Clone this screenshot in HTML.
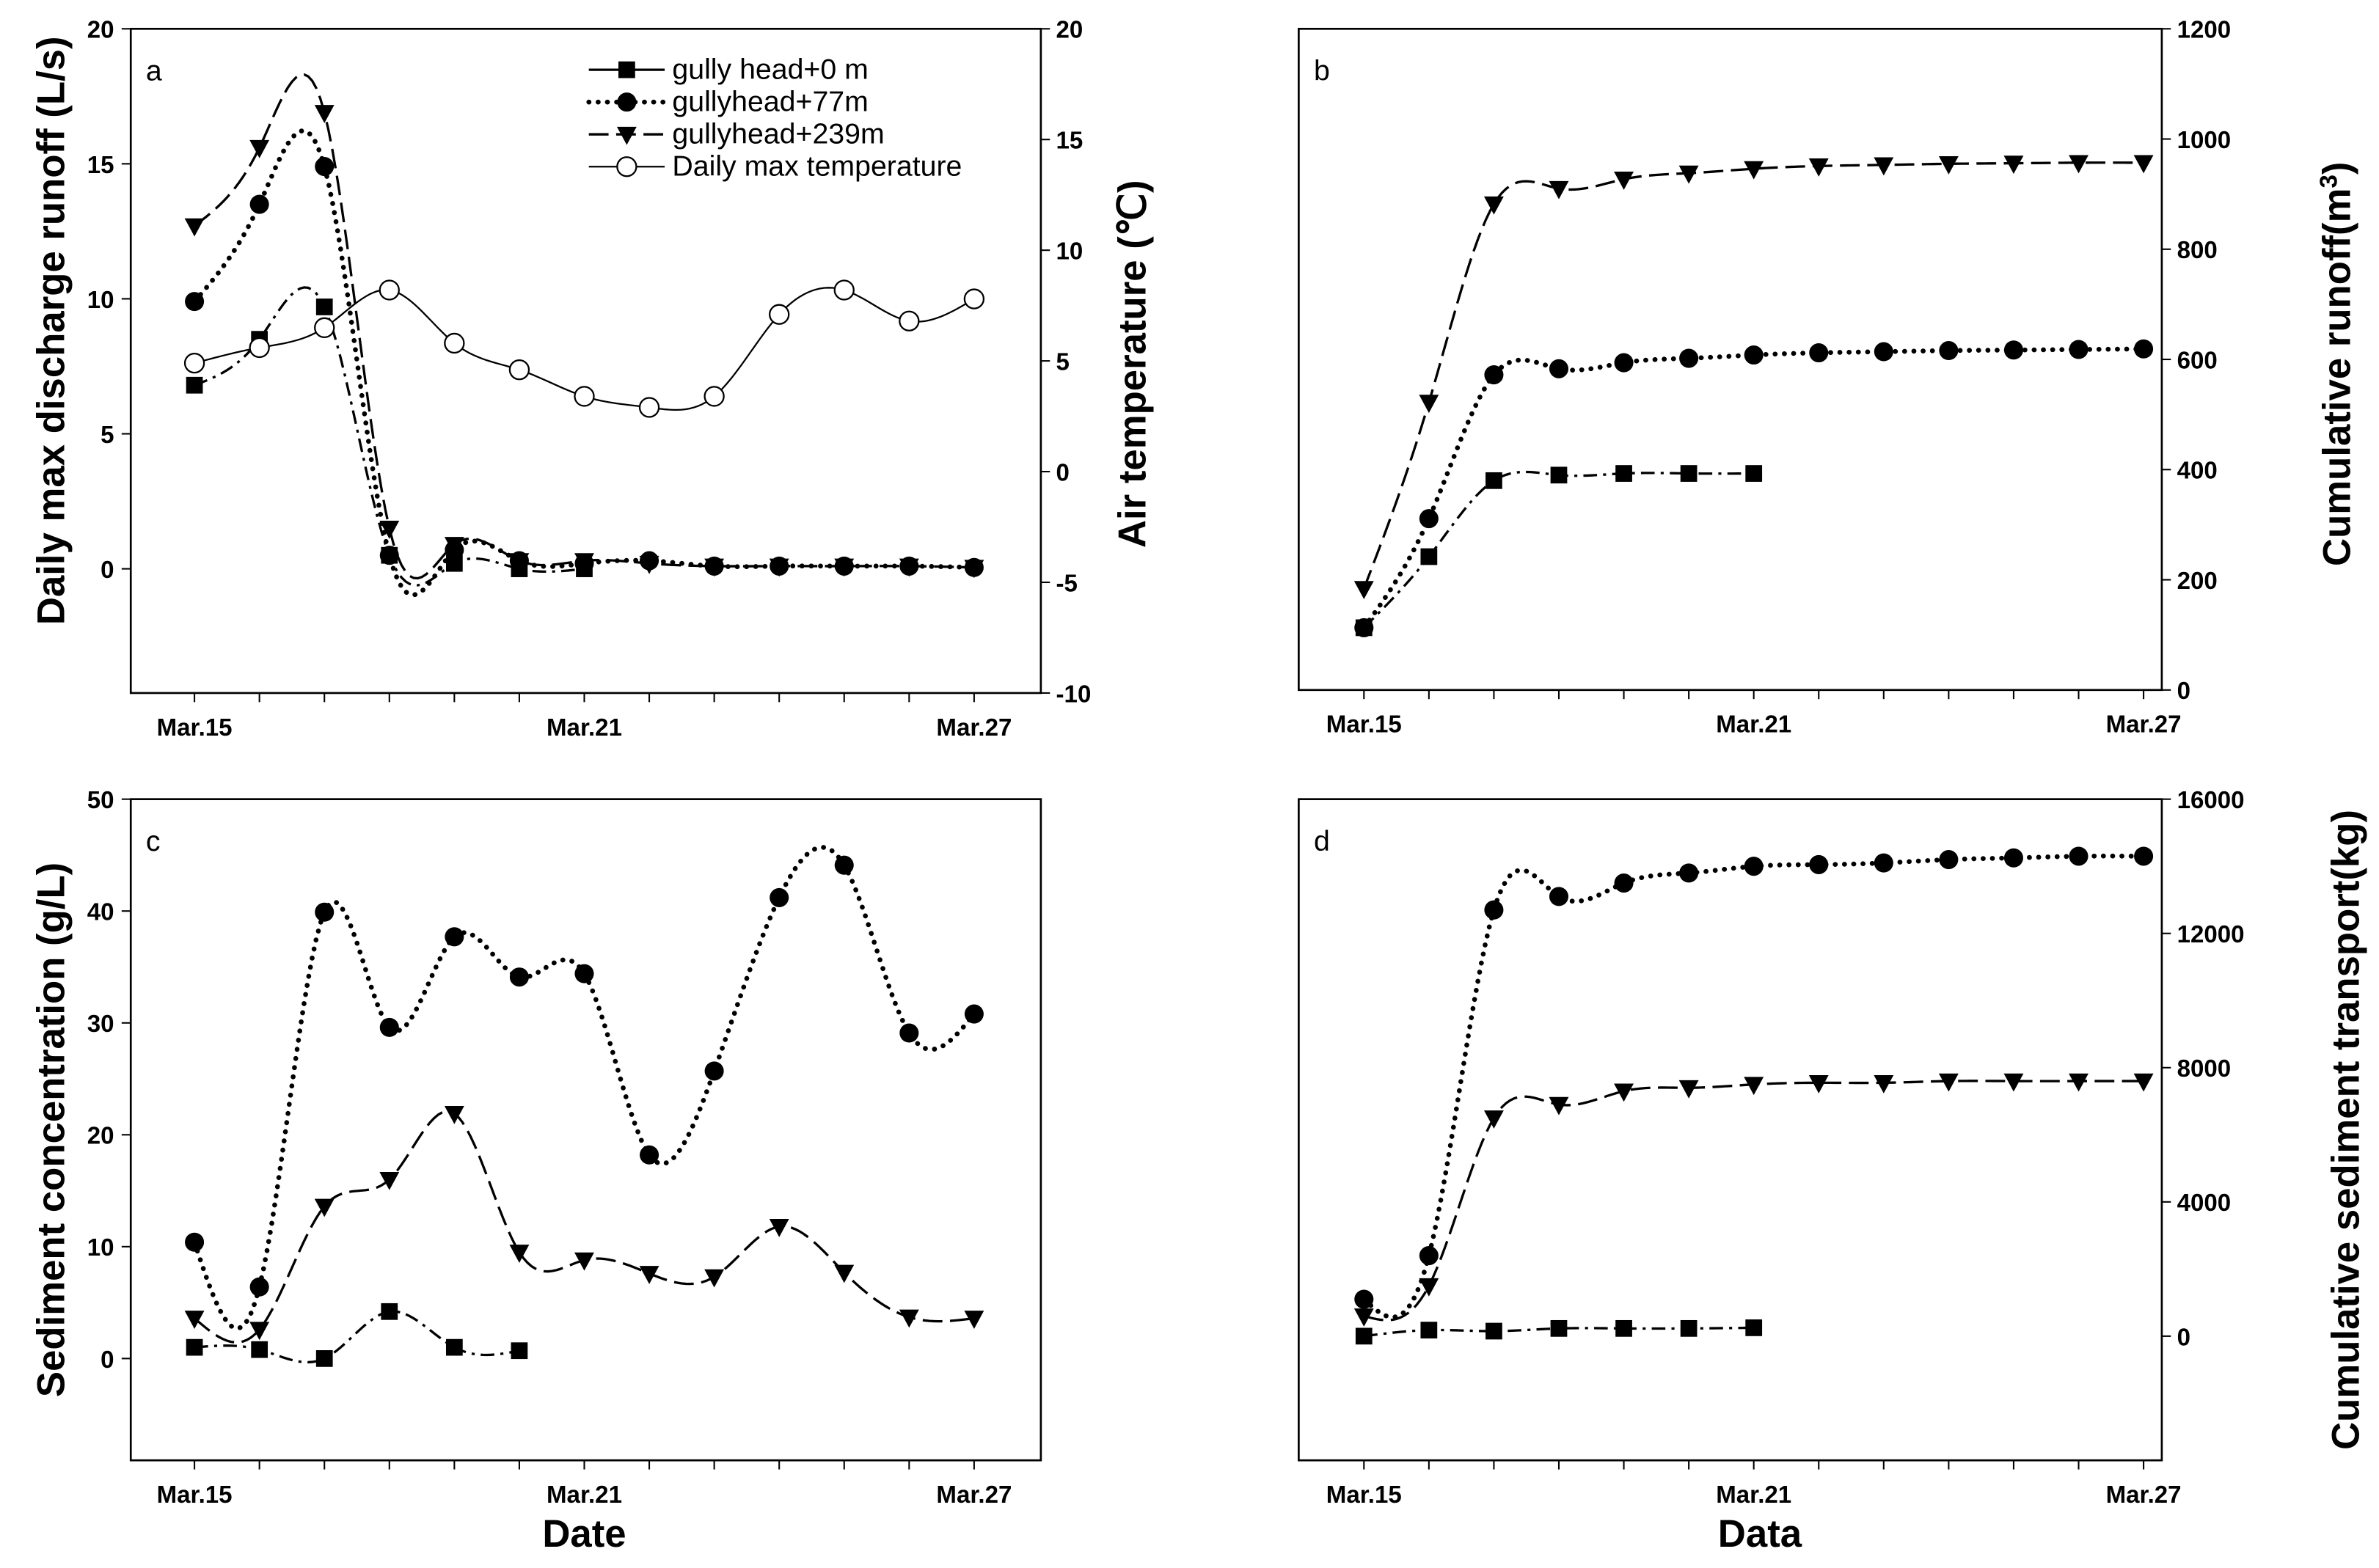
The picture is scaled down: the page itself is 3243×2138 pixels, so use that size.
<!DOCTYPE html>
<html><head><meta charset="utf-8"><style>
html,body{margin:0;padding:0;background:#fff;}
svg{display:block;}
text{font-family:"Liberation Sans",sans-serif;fill:#000;}
.tick{font-size:16px;font-weight:bold;}
.title{font-size:25.5px;font-weight:bold;}
.leg{font-size:19px;}
</style></head><body>
<svg id="fig" width="3243" height="2138" viewBox="0 0 1568 1034" xmlns="http://www.w3.org/2000/svg"></svg>
<script>
// ---- shared data ----
const dayLabels = ["Mar.15","Mar.21","Mar.27"];
const dayLabelIdx = [0,6,12];
// panel a
const aHead0 = [6.8,8.5,9.7,0.5,0.2,0.0,0.0];
const aHead77 = [9.9,13.5,14.9,0.5,0.7,0.3,0.2,0.3,0.1,0.1,0.1,0.1,0.05];
const aHead239 = [12.7,15.6,16.9,1.5,0.9,0.3,0.3,0.2,0.1,0.1,0.1,0.1,0.05];
const aTemp = [4.9,5.6,6.5,8.2,5.8,4.6,3.4,2.9,3.4,7.1,8.2,6.8,7.8];
const aLeftTicks = [0,5,10,15,20];
const aRightTicks = [-10,-5,0,5,10,15,20];
// panel b
const bHead0 = [113,242,380,390,393,393,393];
const bHead77 = [113,311,572,583,594,602,608,612,614,616,617,618,619];
const bHead239 = [184,522,882,910,927,938,946,951,953,955,956,957,957];
const bRightTicks = [0,200,400,600,800,1000,1200];
// panel c
const cHead0 = [1.0,0.8,0.0,4.2,1.0,0.7];
const cHead77 = [10.4,6.4,39.9,29.6,37.7,34.1,34.4,18.2,25.7,41.2,44.1,29.1,30.8];
const cHead239 = [3.6,2.6,13.6,16.0,21.9,9.5,8.8,7.6,7.3,11.8,7.7,3.7,3.6];
const cLeftTicks = [0,10,20,30,40,50];
// panel d
const dHead0 = [0,180,150,230,230,230,250];
const dHead77 = [1100,2400,12700,13100,13500,13800,14000,14050,14100,14200,14250,14300,14300];
const dHead239 = [600,1500,6500,6900,7300,7400,7500,7550,7550,7600,7600,7600,7600];
const dRightTicks = [0,4000,8000,12000,16000];

const NS="http://www.w3.org/2000/svg";
const svg=document.getElementById('fig');
function el(tag,attrs,parent){const e=document.createElementNS(NS,tag);for(const k in attrs)e.setAttribute(k,attrs[k]);(parent||svg).appendChild(e);return e;}

function spline(xs,ys){
  const n=xs.length; if(n<3){return xs.map((x,i)=>[x,ys[i]]);}
  const h=xs[1]-xs[0]; const M=new Array(n).fill(0);
  const a=[],b=[],c=[],d=[];
  for(let i=1;i<n-1;i++){a.push(1);b.push(4);c.push(1);d.push(6*(ys[i+1]-2*ys[i]+ys[i-1])/(h*h));}
  const m=b.length;
  for(let i=1;i<m;i++){const w=a[i]/b[i-1];b[i]-=w*c[i-1];d[i]-=w*d[i-1];}
  const sol=new Array(m);sol[m-1]=d[m-1]/b[m-1];
  for(let i=m-2;i>=0;i--)sol[i]=(d[i]-c[i]*sol[i+1])/b[i];
  for(let i=0;i<m;i++)M[i+1]=sol[i];
  const pts=[];
  for(let i=0;i<n-1;i++){for(let k=0;k<16;k++){const t=k/16*h;const A=(h-t)/h,B=t/h;
    const y=A*ys[i]+B*ys[i+1]+((A*A*A-A)*M[i]+(B*B*B-B)*M[i+1])*h*h/6;pts.push([xs[i]+t,y]);}}
  pts.push([xs[n-1],ys[n-1]]);return pts;
}

function panel(o){
  const g=el('g',{});
  
  
  const X=i=>o.x0+i*(o.x1-o.x0)/12;
  const frame=el('rect',{x:o.L,y:o.T,width:o.R-o.L,height:o.B-o.T,fill:'none',stroke:'#000','stroke-width':1.3},g);
  
  
  for(let i=0;i<13;i++){const t=el('line',{x1:X(i),x2:X(i),y1:o.B,y2:o.B+6,stroke:'#000','stroke-width':1},g);
    }
  dayLabels.forEach((lab,j)=>{const t=el('text',{x:X(dayLabelIdx[j]),y:o.B+28,'text-anchor':'middle',class:'tick'},g);t.textContent=lab;
    });
  o.axes.forEach(ax=>{
    const Y=v=>o.B-(v-ax.min)/(ax.max-ax.min)*(o.B-o.T);
    ax.ticks.forEach(v=>{const y=Y(v);const left=ax.side==='left';
      const t=el('line',{x1:left?o.L-6:o.R,x2:left?o.L:o.R+6,y1:y,y2:y,stroke:'#000','stroke-width':1},g);
      
      const tx=el('text',{x:left?o.L-11:o.R+10,y:y+6,'text-anchor':left?'end':'start',class:'tick'},g);tx.textContent=v;
      });
    ax.series.forEach(s=>{
      const xs=s.data.map((v,i)=>X(i)),ys=s.data.map(v=>Y(v));
      const pts=spline(xs,ys);
      const p=el('path',{d:'M'+pts.map(q=>q[0].toFixed(2)+','+q[1].toFixed(2)).join('L'),fill:'none',stroke:'#000','stroke-width':s.w,'stroke-dasharray':s.dash,'stroke-linecap':s.cap||'butt'},g);
      
      s.data.forEach((v,i)=>{const m=marker(s.mk,X(i),Y(v),g);
        });
    });
  });
  const lab=el('text',{x:o.L+10,y:o.T+34,class:'leg'},g);lab.textContent=o.letter;
  
}
function marker(type,x,y,g){
  if(type==='sq')return el('rect',{x:x-5.5,y:y-5.5,width:11,height:11,fill:'#000'},g);
  if(type==='ci')return el('circle',{cx:x,cy:y,r:6.3,fill:'#000'},g);
  if(type==='oc')return el('circle',{cx:x,cy:y,r:6.3,fill:'#fff',stroke:'#000','stroke-width':1.1},g);
  return el('polygon',{points:`${x-6.5},${y-5} ${x+6.5},${y-5} ${x},${y+7}`,fill:'#000'},g);
}
const S0={name:'gully-head-0m',mk:'sq',w:1.6,dash:'9 4 2 4'};
const S77={name:'gullyhead-77m',mk:'ci',w:3.2,dash:'0.1 6',cap:'round'};
const S239={name:'gullyhead-239m',mk:'tr',w:1.6,dash:'13 5'};

panel({name:'panel-a',letter:'a',L:86,R:686,T:19,B:457,x0:128,x1:642,axes:[
 {side:'left',min:-4.6,max:20,ticks:aLeftTicks,series:[Object.assign({},S0,{data:aHead0}),Object.assign({},S77,{data:aHead77}),Object.assign({},S239,{data:aHead239})]},
 {side:'right',min:-10,max:20,ticks:aRightTicks,series:[{name:'daily-max-temperature',mk:'oc',w:1.1,dash:'none',data:aTemp}]}]});
panel({name:'panel-b',letter:'b',L:856,R:1425,T:19,B:455,x0:899,x1:1413,axes:[
 {side:'right',min:0,max:1200,ticks:bRightTicks,series:[Object.assign({},S0,{data:bHead0}),Object.assign({},S77,{data:bHead77}),Object.assign({},S239,{data:bHead239})]}]});
panel({name:'panel-c',letter:'c',L:86,R:686,T:527,B:963,x0:128,x1:642,axes:[
 {side:'left',min:-9.1,max:50,ticks:cLeftTicks,series:[Object.assign({},S0,{data:cHead0}),Object.assign({},S77,{data:cHead77}),Object.assign({},S239,{data:cHead239})]}]});
panel({name:'panel-d',letter:'d',L:856,R:1425,T:527,B:963,x0:899,x1:1413,axes:[
 {side:'right',min:-3700,max:16000,ticks:dRightTicks,series:[Object.assign({},S0,{data:dHead0}),Object.assign({},S77,{data:dHead77}),Object.assign({},S239,{data:dHead239})]}]});

// legend
const legItems=[[{mk:'sq',w:1.6,dash:'none'},'gully head+0 m'],[S77,'gullyhead+77m'],[S239,'gullyhead+239m'],[{mk:'oc',w:1.1,dash:'none'},'Daily max temperature']];
const lg=el('g',{});


legItems.forEach((it,i)=>{const y=46+i*21.3;
  el('line',{x1:388,x2:438,y1:y,y2:y,stroke:'#000','stroke-width':it[0].w,'stroke-dasharray':it[0].dash,'stroke-linecap':it[0].cap||'butt'},lg);
  marker(it[0].mk,413,y,lg);
  const t=el('text',{x:443,y:y+6,class:'leg'},lg);t.textContent=it[1];
  
  });

function title(txt,x,y,rot,name){const t=el('text',{x:x,y:y,class:'title','text-anchor':'middle',transform:rot?`rotate(-90 ${x} ${y})`:''});t.innerHTML=txt;
  }
title('Daily max discharge runoff (L/s)',42,218,true,'y-axis-title-runoff');
title('Air temperature (℃)',755,240,true,'y-axis-title-temperature');
title('Cumulative runoff(m<tspan baseline-shift="super" font-size="16">3</tspan>)',1549,240,true,'y-axis-title-cumulative-runoff');
title('Sediment concentration (g/L)',42,745,true,'y-axis-title-sediment');
title('Cumulative sediment transport(kg)',1555,745,true,'y-axis-title-cumulative-sediment');
title('Date',385,1020,false,'x-axis-title-date');
title('Data',1160,1020,false,'x-axis-title-data');
</script>
</body></html>
